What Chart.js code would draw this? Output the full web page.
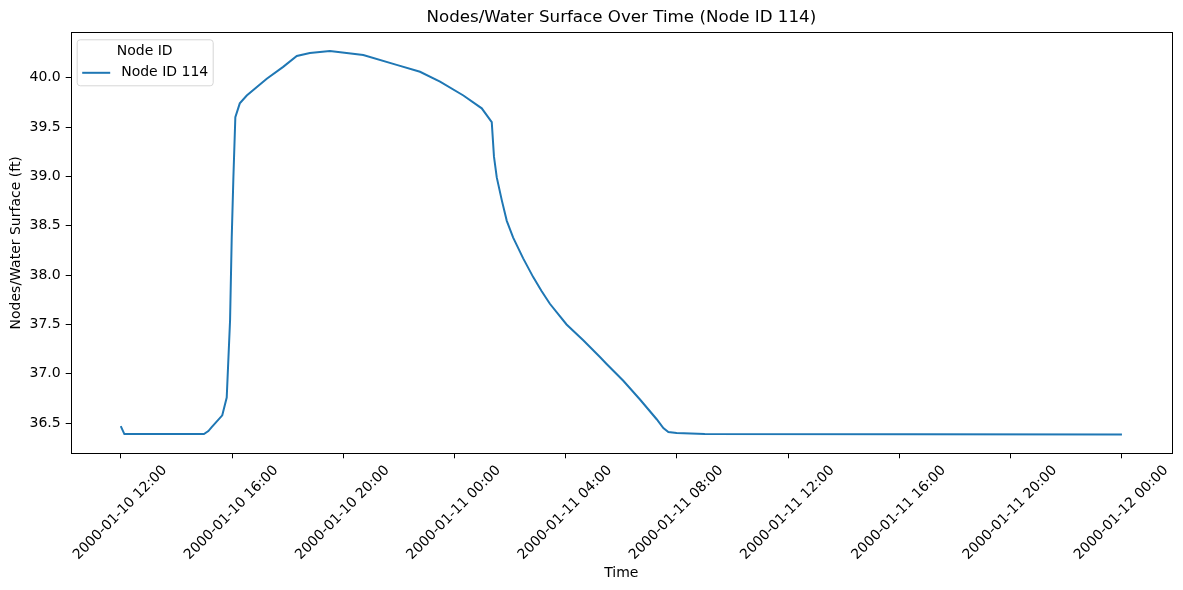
<!DOCTYPE html>
<html>
<head>
<meta charset="utf-8">
<script src="https://cdn.jsdelivr.net/npm/chart.js@4.4.1/dist/chart.umd.min.js"></script>
<style>
  body { margin: 0; background: #fff; }
  #wrap { width: 1183px; height: 590px; }
</style>
</head>
<body>
<div id="wrap"><canvas id="chart" width="1183" height="590"></canvas></div>
<script>
// hours since 2000-01-10 12:00
const hours = [0, 0.13, 2.99, 3.15, 3.27, 3.65, 3.81, 3.93, 3.99, 4.05, 4.12, 4.28, 4.53, 5.25, 5.84, 6.33, 6.8, 7.52, 8.12, 8.72, 9.92, 10.76, 11.48, 12.32, 12.98, 13.34, 13.42, 13.52, 13.7, 13.88, 14.11, 14.47, 14.83, 15.13, 15.43, 16.03, 16.63, 17.23, 17.47, 18.07, 18.67, 19.27, 19.51, 19.69, 19.99, 21, 36];
const surface = [36.47, 36.39, 36.39, 36.42, 36.46, 36.58, 36.76, 37.54, 38.38, 38.99, 39.6, 39.74, 39.82, 39.99, 40.11, 40.22, 40.25, 40.27, 40.25, 40.23, 40.13, 40.06, 39.96, 39.82, 39.69, 39.55, 39.2, 38.99, 38.76, 38.55, 38.38, 38.17, 37.98, 37.84, 37.71, 37.5, 37.34, 37.17, 37.1, 36.93, 36.74, 36.54, 36.45, 36.41, 36.4, 36.39, 36.385];

const xTickHours = [0, 4, 8, 12, 16, 20, 24, 28, 32, 36];
const xTickLabels = ["2000-01-10 12:00", "2000-01-10 16:00", "2000-01-10 20:00", "2000-01-11 00:00", "2000-01-11 04:00",
  "2000-01-11 08:00", "2000-01-11 12:00", "2000-01-11 16:00", "2000-01-11 20:00", "2000-01-12 00:00"];
const yTicks = [36.5, 37.0, 37.5, 38.0, 38.5, 39.0, 39.5, 40.0];

const seriesName = "Node ID 114";
const chartTitle = "Nodes/Water Surface Over Time (Node ID 114)";
const lineColor = "#1f77b4";
const FONT = "'DejaVu Sans', sans-serif";

Chart.defaults.color = "#000";
Chart.defaults.font.family = FONT;
Chart.defaults.font.size = 14;

// axes frame, title centred over the axes, legend box
const frame = {
  id: "frame",
  afterDraw(chart) {
    const { ctx, chartArea: a } = chart;
    ctx.save();
    ctx.strokeStyle = "#000";
    ctx.lineWidth = 1;
    ctx.strokeRect(Math.round(a.left) + 0.5, Math.round(a.top) + 0.5,
      Math.round(a.right - a.left), Math.round(a.bottom - a.top));

    ctx.fillStyle = "#000";
    ctx.font = "16.7px " + FONT;
    ctx.textAlign = "center";
    ctx.textBaseline = "middle";
    ctx.fillText(chartTitle, (a.left + a.right) / 2, 17.6);

    const ds = chart.data.datasets[0];
    const bx = a.left + 6.5, by = a.top + 7.5, bw = 136, bh = 46;
    ctx.beginPath();
    ctx.roundRect(bx, by, bw, bh, 3);
    ctx.fillStyle = "rgba(255,255,255,0.8)";
    ctx.fill();
    ctx.strokeStyle = "#d6d6d6";
    ctx.stroke();
    ctx.fillStyle = "#000";
    ctx.font = "14px " + FONT;
    ctx.fillText("Node ID", bx + bw / 2 - 0.5, by + 12);
    ctx.beginPath();
    ctx.moveTo(bx + 5, by + 33);
    ctx.lineTo(bx + 33, by + 33);
    ctx.strokeStyle = ds.borderColor;
    ctx.lineWidth = 2;
    ctx.stroke();
    ctx.textAlign = "left";
    ctx.fillText(ds.label, bx + 44, by + 33);
    ctx.restore();
  }
};

new Chart(document.getElementById("chart"), {
  type: "line",
  data: {
    datasets: [{
      label: seriesName,
      data: hours.map((h, i) => ({ x: h, y: surface[i] })),
      borderColor: lineColor,
      borderWidth: 2,
      pointRadius: 0,
      tension: 0,
      fill: false
    }]
  },
  options: {
    responsive: false,
    animation: false,
    layout: { padding: { left: 0, right: 11, top: 32.3, bottom: 0 } },
    plugins: {
      legend: { display: false },
      tooltip: { enabled: false },
      title: { display: false }
    },
    scales: {
      x: {
        type: "linear",
        min: -1.8,
        max: 37.8,
        afterBuildTicks: s => { s.ticks = xTickHours.map(v => ({ value: v })); },
        afterFit: s => { s.height = 136.7; s.paddingLeft = 0; s.paddingRight = 0; },
        border: { display: false },
        grid: { drawOnChartArea: false, drawTicks: true, tickLength: 5, color: "#000" },
        ticks: {
          minRotation: 45,
          maxRotation: 45,
          padding: 4,
          labelOffset: 44,
          autoSkip: false,
          callback: v => xTickLabels[xTickHours.indexOf(v)]
        },
        title: { display: true, text: "Time", padding: { top: 0, bottom: 8 } }
      },
      y: {
        min: 36.195,
        max: 40.46,
        afterBuildTicks: s => { s.ticks = yTicks.map(v => ({ value: v })); },
        afterFit: s => { s.width = 70.7; s.paddingTop = 0; s.paddingBottom = 0; },
        border: { display: false },
        grid: { drawOnChartArea: false, drawTicks: true, tickLength: 5, color: "#000" },
        ticks: { padding: 5, callback: v => v.toFixed(1) },
        title: { display: true, text: "Nodes/Water Surface (ft)", padding: { top: 8, bottom: 0 } }
      }
    }
  },
  plugins: [frame]
});
</script>
</body>
</html>
